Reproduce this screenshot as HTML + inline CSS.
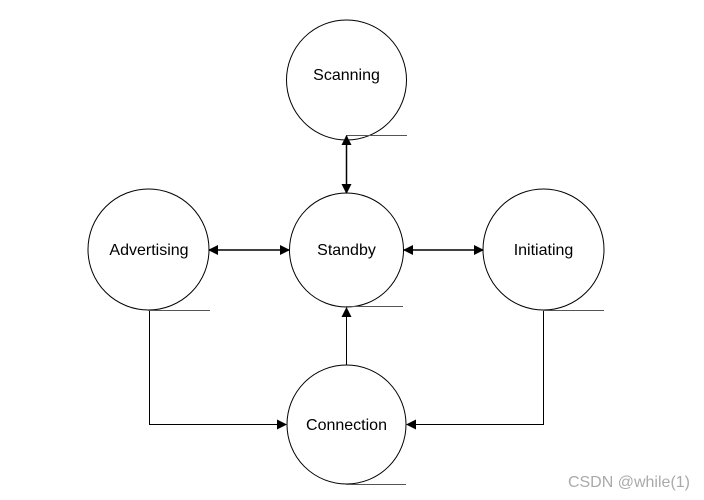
<!DOCTYPE html>
<html><head><style>body{margin:0;background:#fff}svg{display:block}</style></head><body>
<svg width="704" height="500" xmlns="http://www.w3.org/2000/svg">
<defs><marker id="a" markerWidth="10" markerHeight="10" refX="9" refY="5" orient="auto-start-reverse" markerUnits="userSpaceOnUse"><path d="M0,0 L10,5 L0,10 Z" fill="#000"/></marker></defs>
<g fill="#fff" stroke="#000" stroke-width="1">
<circle cx="346.5" cy="80" r="60"/>
<circle cx="346.5" cy="250" r="57"/>
<circle cx="148.5" cy="249.5" r="60.5"/>
<circle cx="543.5" cy="249.5" r="60.5"/>
<circle cx="346.5" cy="424.5" r="59.5"/>
</g>
<g stroke="#555" stroke-width="1">
<line x1="346" y1="135.5" x2="407" y2="135.5"/>
<line x1="346" y1="306.5" x2="403" y2="306.5"/>
<line x1="148" y1="310.5" x2="210" y2="310.5"/>
<line x1="543" y1="310.5" x2="604" y2="310.5"/>
<line x1="346" y1="484.5" x2="406" y2="484.5"/>
</g>
<g stroke="#000" stroke-width="1.5" fill="none">
<line x1="346.5" y1="136" x2="346.5" y2="193" marker-start="url(#a)" marker-end="url(#a)"/>
<line x1="209" y1="250" x2="289" y2="250" marker-start="url(#a)" marker-end="url(#a)"/>
<line x1="404" y1="250" x2="483" y2="250" marker-start="url(#a)" marker-end="url(#a)"/>
</g>
<g stroke="#000" stroke-width="1" fill="none">
<line x1="346.5" y1="365" x2="346.5" y2="308" marker-end="url(#a)"/>
<polyline points="149.5,311 149.5,424.5 286,424.5" marker-end="url(#a)"/>
<polyline points="543.5,311 543.5,424.5 407,424.5" marker-end="url(#a)"/>
</g>
<g font-family="Liberation Sans, sans-serif" font-size="16" text-anchor="middle" fill="#000">
<text x="346.5" y="80">Scanning</text>
<text x="346.5" y="255">Standby</text>
<text x="149" y="255">Advertising</text>
<text x="543.5" y="255">Initiating</text>
<text x="346.5" y="430">Connection</text>
</g>
<text x="690" y="487" font-family="Liberation Sans, sans-serif" font-size="16" fill="#aaa" text-anchor="end">CSDN @while(1)</text>
</svg>
</body></html>
